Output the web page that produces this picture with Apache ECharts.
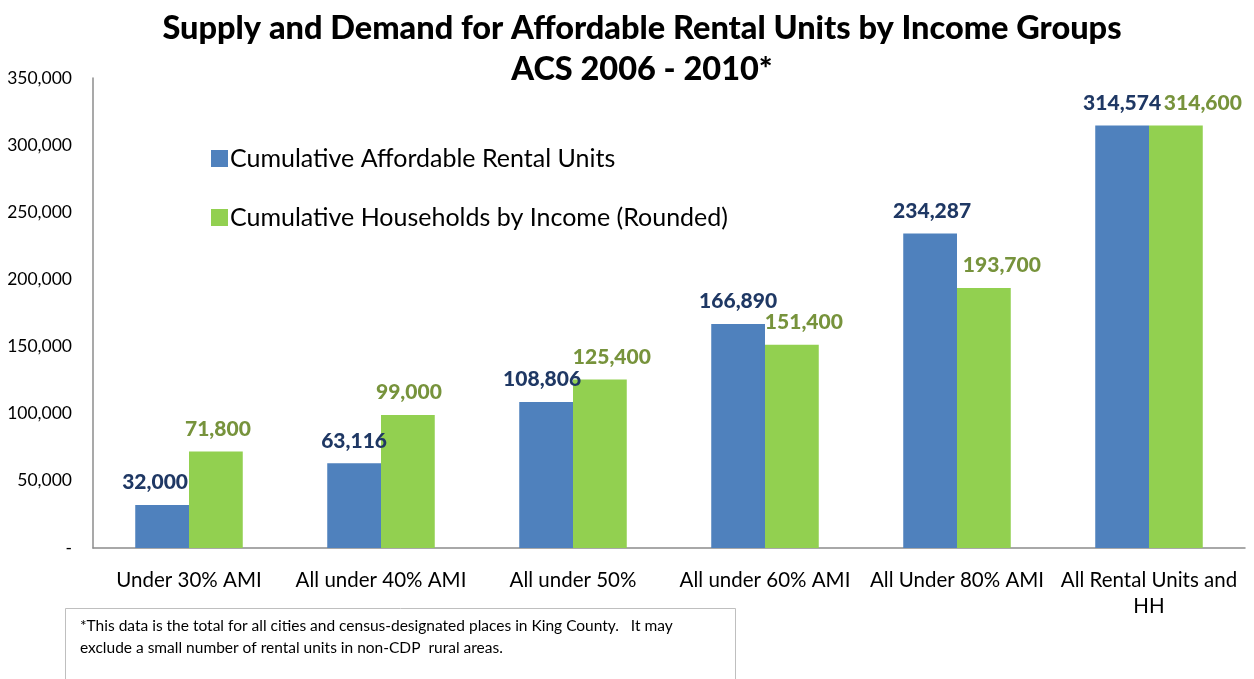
<!DOCTYPE html>
<html>
<head>
<meta charset="utf-8">
<script src="https://cdn.jsdelivr.net/npm/echarts@6/dist/echarts.min.js"></script>
<style>
html,body{margin:0;padding:0;background:#fff}
#chart{width:1254px;height:679px}
</style>
</head>
<body>
<div id="chart"></div>
<script>
const categories = ['Under 30% AMI', 'All under 40% AMI', 'All under 50%', 'All under 60% AMI', 'All Under 80% AMI', 'All Rental Units and\nHH']
const rentalUnits = [32000, 63116, 108806, 166890, 234287, 314574]
const households = [71800, 99000, 125400, 151400, 193700, 314600]
const yTicks = { min: 0, max: 350000, interval: 50000 }

const fontFam = 'Lato, "Open Sans", sans-serif'
const fmt = v => v === 0 ? '-' : v.toLocaleString('en-US')

// label nudges, like the hand-placed labels of the original
const blueShift = [-7, 0, -4, 0, 2, 0]
const greenShift = [2, 1, 12, 12, 18, 27]

const chart = echarts.init(document.getElementById('chart'))
chart.setOption({
  animation: false,
  textStyle: { fontFamily: fontFam },
  title: {
    text: 'Supply and Demand for Affordable Rental Units by Income Groups\nACS 2006 - 2010*',
    left: 637,
    textAlign: 'center',
    top: 3,
    textStyle: { fontSize: 32.5, fontWeight: 900, color: '#000', lineHeight: 41, fontFamily: fontFam }
  },
  legend: {
    orient: 'vertical',
    left: 206,
    top: 141,
    itemWidth: 17,
    itemHeight: 17,
    itemGap: 34,
    icon: 'rect',
    textStyle: { fontSize: 25, color: '#000', padding: [0, 0, 0, -3] },
    data: ['Cumulative Affordable Rental Units', 'Cumulative Households by Income (Rounded)']
  },
  grid: { left: 93, right: 9, top: 78, bottom: 131 },
  xAxis: {
    type: 'category',
    data: categories,
    axisLine: { lineStyle: { color: '#8c8c8c', width: 1.5 } },
    axisTick: { show: false },
    axisLabel: { fontSize: 20.5, color: '#000', margin: 19, lineHeight: 26, interval: 0 }
  },
  yAxis: {
    type: 'value',
    min: yTicks.min,
    max: yTicks.max,
    interval: yTicks.interval,
    splitLine: { show: false },
    axisLine: { show: true, lineStyle: { color: '#8c8c8c', width: 1.5 } },
    axisTick: { show: false },
    axisLabel: { fontSize: 17.5, color: '#000', margin: 21, formatter: fmt }
  },
  series: [
    {
      name: 'Cumulative Affordable Rental Units',
      type: 'bar',
      data: rentalUnits.map((v, i) => ({ value: v, label: { offset: [blueShift[i], 0] } })),
      barGap: '0%',
      barCategoryGap: '44%',
      itemStyle: { color: '#4f81bd' },
      label: {
        show: true, position: 'top', distance: 12,
        fontSize: 21, fontWeight: 900, color: '#1f3864', formatter: p => fmt(p.value)
      }
    },
    {
      name: 'Cumulative Households by Income (Rounded)',
      type: 'bar',
      data: households.map((v, i) => ({ value: v, label: { offset: [greenShift[i], 0] } })),
      itemStyle: { color: '#92d050' },
      label: {
        show: true, position: 'top', distance: 12,
        fontSize: 21, fontWeight: 900, color: '#77933c', formatter: p => fmt(p.value)
      }
    }
  ],
  graphic: [
    {
      type: 'rect',
      shape: { x: 65.5, y: 608.5, width: 670, height: 80 },
      style: { fill: '#fff', stroke: '#bfbfbf', lineWidth: 1 }
    },
    {
      type: 'text',
      left: 80,
      top: 615,
      style: {
        text: '*This data is the total for all cities and census-designated places in King County.   It may\nexclude a small number of rental units in non-CDP  rural areas.',
        fontSize: 15.5, lineHeight: 22, fill: '#000', fontFamily: fontFam
      }
    }
  ]
})
</script>
</body>
</html>
